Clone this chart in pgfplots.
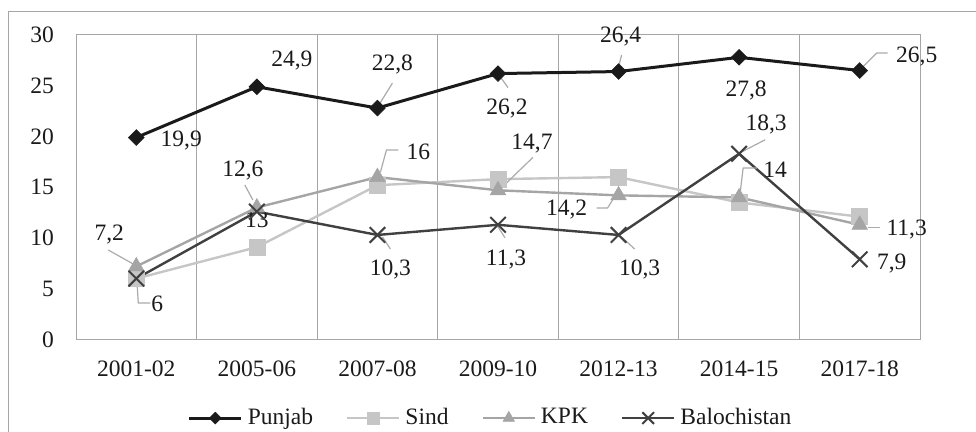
\documentclass[border=0pt]{standalone}
\usepackage{fontspec}
\setmainfont{Liberation Serif}
\usepackage{pgfplots}
\pgfplotsset{compat=1.18}
\usetikzlibrary{calc}
\definecolor{cPun}{HTML}{1A1A1A}
\definecolor{cSin}{HTML}{C6C6C6}
\definecolor{cKpk}{HTML}{A5A5A5}
\definecolor{cBal}{HTML}{404040}
\definecolor{cAx}{HTML}{A6A6A6}
\definecolor{cLead}{HTML}{ABABAB}
\definecolor{cTxt}{HTML}{1A1A1A}
\newcommand{\F}{\fontsize{23.5}{27}\selectfont}
\newcommand{\dl}[4]{\node[lbl] at ($(axis cs:#1,#2)+(#3)$) {#4};}
\newcommand{\ldA}[4]{\draw[leader] ($(axis cs:#1,#2)+(#3)$) -- ($(axis cs:#1,#2)+(#4)$);}
\newcommand{\ldB}[5]{\draw[leader] ($(axis cs:#1,#2)+(#3)$) -- ($(axis cs:#1,#2)+(#4)$) -- ($(axis cs:#1,#2)+(#5)$);}
\begin{document}
\F
\begin{tikzpicture}[
  lbl/.style={inner sep=0pt, anchor=base, yshift=-7.7pt, text=cTxt, font=\F},
  leader/.style={draw=cLead, line width=1.2pt}]
\useasboundingbox (0pt,0pt) rectangle (976pt,431pt);
\draw[cAx, line width=1pt] (8pt,-20pt) -- (8pt,419pt) -- (1000pt,419pt);
\begin{axis}[
  at={(76pt,91.5pt)}, anchor=south west,
  scale only axis, width=844pt, height=304.5pt,
  xmin=-0.5, xmax=6.5, ymin=0, ymax=30,
  clip=false,
  xtick={0,1,2,3,4,5,6},
  xticklabels={2001-02,2005-06,2007-08,2009-10,2012-13,2014-15,2017-18},
  ytick={0,5,10,15,20,25,30},
  minor xtick={0.5,1.5,2.5,3.5,4.5,5.5},
  xminorgrids=true,
  minor x grid style={cAx, line width=1pt},
  major tick length=0pt, minor tick length=0pt,
  axis line style={cAx, line width=1pt},
  /pgf/number format/assume math mode=true,
  ticklabel style={text=cTxt, font=\F},
  yticklabel style={anchor=east, inner sep=0pt, xshift=-22pt},
  xticklabel style={anchor=north, inner sep=0pt, yshift=-21pt},
  legend columns=4,
  legend style={draw=none, fill=none, at={(0.493,-0.258)}, anchor=center,
    text=cTxt, font=\F, nodes={inner xsep=5pt, inner ysep=0pt},
    /tikz/every even column/.append style={column sep=28pt}},
  legend image code/.code={\draw[mark repeat=2,mark phase=2,#1,every mark/.append style={scale=0.75}] plot coordinates {(0pt,0pt) (26pt,0pt) (52pt,0pt)};},
]
\addplot[cPun, line width=3pt, mark=square*, mark size=5.6pt,
  mark options={rotate=45, fill=cPun, draw=cPun, line width=0.5pt}]
  coordinates {(0,19.9) (1,24.9) (2,22.8) (3,26.2) (4,26.4) (5,27.8) (6,26.5)};
\addlegendentry{Punjab}
\addplot[cSin, line width=2.4pt, mark=square*, mark size=8pt,
  mark options={fill=cSin, draw=cSin, line width=0.5pt}]
  coordinates {(0,6) (1,9.1) (2,15.2) (3,15.8) (4,16.0) (5,13.5) (6,12.1)};
\addlegendentry{Sind}
\addplot[cKpk, line width=2.4pt, mark=triangle*, mark size=9pt,
  mark options={fill=cKpk, draw=cKpk, line width=0.5pt}]
  coordinates {(0,7.2) (1,13) (2,16) (3,14.7) (4,14.2) (5,14) (6,11.3)};
\addlegendentry{KPK}
\addplot[cBal, line width=2.4pt, mark=x, mark size=11pt,
  mark options={draw=cBal, line width=2pt}]
  coordinates {(0,6) (1,12.6) (2,10.3) (3,11.3) (4,10.3) (5,18.3) (6,7.9)};
\addlegendentry{Balochistan}
% Punjab labels
\dl{0}{19.9}{45pt,-1.5pt}{19,9}
\dl{1}{24.9}{35pt,28pt}{24,9}
\ldA{2}{22.8}{15pt,25pt}{2pt,4pt}
\dl{2}{22.8}{15pt,45pt}{22,8}
\ldA{3}{26.2}{2pt,-3pt}{10pt,-14pt}
\dl{3}{26.2}{9pt,-33pt}{26,2}
\ldA{4}{26.4}{3pt,16.5pt}{0pt,4.5pt}
\dl{4}{26.4}{2pt,36.5pt}{26,4}
\dl{5}{27.8}{7pt,-31pt}{27,8}
\ldB{6}{26.5}{28pt,17.5pt}{17pt,17.5pt}{2pt,2.5pt}
\dl{6}{26.5}{57pt,15.5pt}{26,5}
% KPK labels
\ldA{0}{7.2}{-28pt,16.4pt}{-3pt,2.4pt}
\dl{0}{7.2}{-27pt,33.4pt}{7,2}
\dl{1}{13}{0pt,-12.5pt}{13}
\ldB{2}{16}{21pt,27pt}{9pt,27pt}{3pt,5pt}
\dl{2}{16}{41pt,25pt}{16}
\ldA{3}{14.7}{35pt,33pt}{4pt,3pt}
\dl{3}{14.7}{34pt,48pt}{14,7}
\ldB{4}{14.2}{-22pt,-12.6pt}{-11pt,-12.6pt}{-6pt,-4.6pt}
\dl{4}{14.2}{-52pt,-12.6pt}{14,2}
\ldB{5}{14}{18pt,29.4pt}{4pt,29.4pt}{1pt,4.4pt}
\dl{5}{14}{36pt,27.4pt}{14}
\ldA{6}{11.3}{8pt,-3pt}{20pt,-3pt}
\dl{6}{11.3}{47pt,-3pt}{11,3}
% Balochistan labels
\ldB{0}{6}{1pt,-8.4pt}{2pt,-24.4pt}{14pt,-24.4pt}
\dl{0}{6}{21pt,-25.4pt}{6}
\ldA{1}{12.6}{-12pt,26.6pt}{-4pt,11.6pt}
\dl{1}{12.6}{-14pt,42.6pt}{12,6}
\ldA{2}{10.3}{5pt,-2pt}{13pt,-14pt}
\dl{2}{10.3}{13pt,-33pt}{10,3}
\ldA{3}{11.3}{0pt,-2pt}{7pt,-13pt}
\dl{3}{11.3}{8pt,-33pt}{11,3}
\ldA{4}{10.3}{3pt,-2pt}{16pt,-14pt}
\dl{4}{10.3}{21pt,-33pt}{10,3}
\ldA{5}{18.3}{26pt,14pt}{1pt,1pt}
\dl{5}{18.3}{27pt,31pt}{18,3}
\dl{6}{7.9}{32pt,-2pt}{7,9}
\end{axis}
\end{tikzpicture}
\end{document}
